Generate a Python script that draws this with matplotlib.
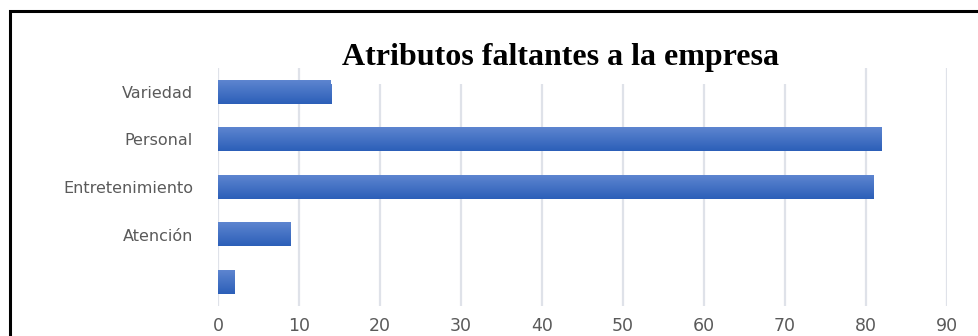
import numpy as np
import matplotlib
matplotlib.use("Agg")
import matplotlib.pyplot as plt
from matplotlib.colors import LinearSegmentedColormap
from matplotlib.patches import Rectangle

# Data (bottom to top)
categories = ["", "Atención", "Entretenimiento", "Personal", "Variedad"]
values = [2, 9, 81, 82, 14]
x_ticks = [0, 10, 20, 30, 40, 50, 60, 70, 80, 90]
title = "Atributos faltantes a la empresa"

W, H = 979, 336
fig = plt.figure(figsize=(W / 100, H / 100), dpi=100)
fig.patch.set_facecolor("white")

ax = fig.add_axes([218 / W, 30 / H, (946.7 - 218) / W, 238 / H])
ax.set_facecolor("white")

ypos = np.arange(len(categories))
bars = ax.barh(ypos, values, height=0.5, color="none", edgecolor="none", zorder=2)

# vertical gradient fill for each bar
grad_cmap = LinearSegmentedColormap.from_list("bar", ["#2c5fb8", "#5d85d0"])
grad = np.linspace(0, 1, 64).reshape(-1, 1)
for b in bars:
    x0, y0, w, h = b.get_x(), b.get_y(), b.get_width(), b.get_height()
    ax.imshow(grad, extent=[x0, x0 + w, y0, y0 + h], origin="lower",
              aspect="auto", cmap=grad_cmap, zorder=2, interpolation="bilinear")

ax.set_xlim(0, 90)
ax.set_ylim(-0.5, len(categories) - 0.5)
ax.set_xticks(x_ticks)
ax.set_xticklabels([str(t) for t in x_ticks])
ax.set_yticks(ypos)
ax.set_yticklabels(categories)

ax.grid(axis="x", color="#dfe2e9", linewidth=1.6, zorder=0)
ax.set_axisbelow(True)
for s in ax.spines.values():
    s.set_visible(False)
ax.tick_params(axis="both", length=0, colors="#5a5a5a")
ax.tick_params(axis="y", pad=18, labelsize=11.5)
ax.tick_params(axis="x", pad=8, labelsize=12.5)

# title with white box over the gridlines
fig.text(561 / W, 1 - 65 / H, title, ha="center", va="baseline",
         fontsize=23, fontweight="bold", family="Liberation Serif", color="black",
         bbox=dict(boxstyle="square,pad=0.36", facecolor="white", edgecolor="none"),
         zorder=5)

# outer frame
fig.add_artist(Rectangle((9.5 / W, -0.2), 1.5, 1.2 - 11 / H,
                         transform=fig.transFigure, fill=False,
                         edgecolor="black", linewidth=2.2, zorder=10))

fig.savefig("out.png", dpi=100, facecolor="white")
